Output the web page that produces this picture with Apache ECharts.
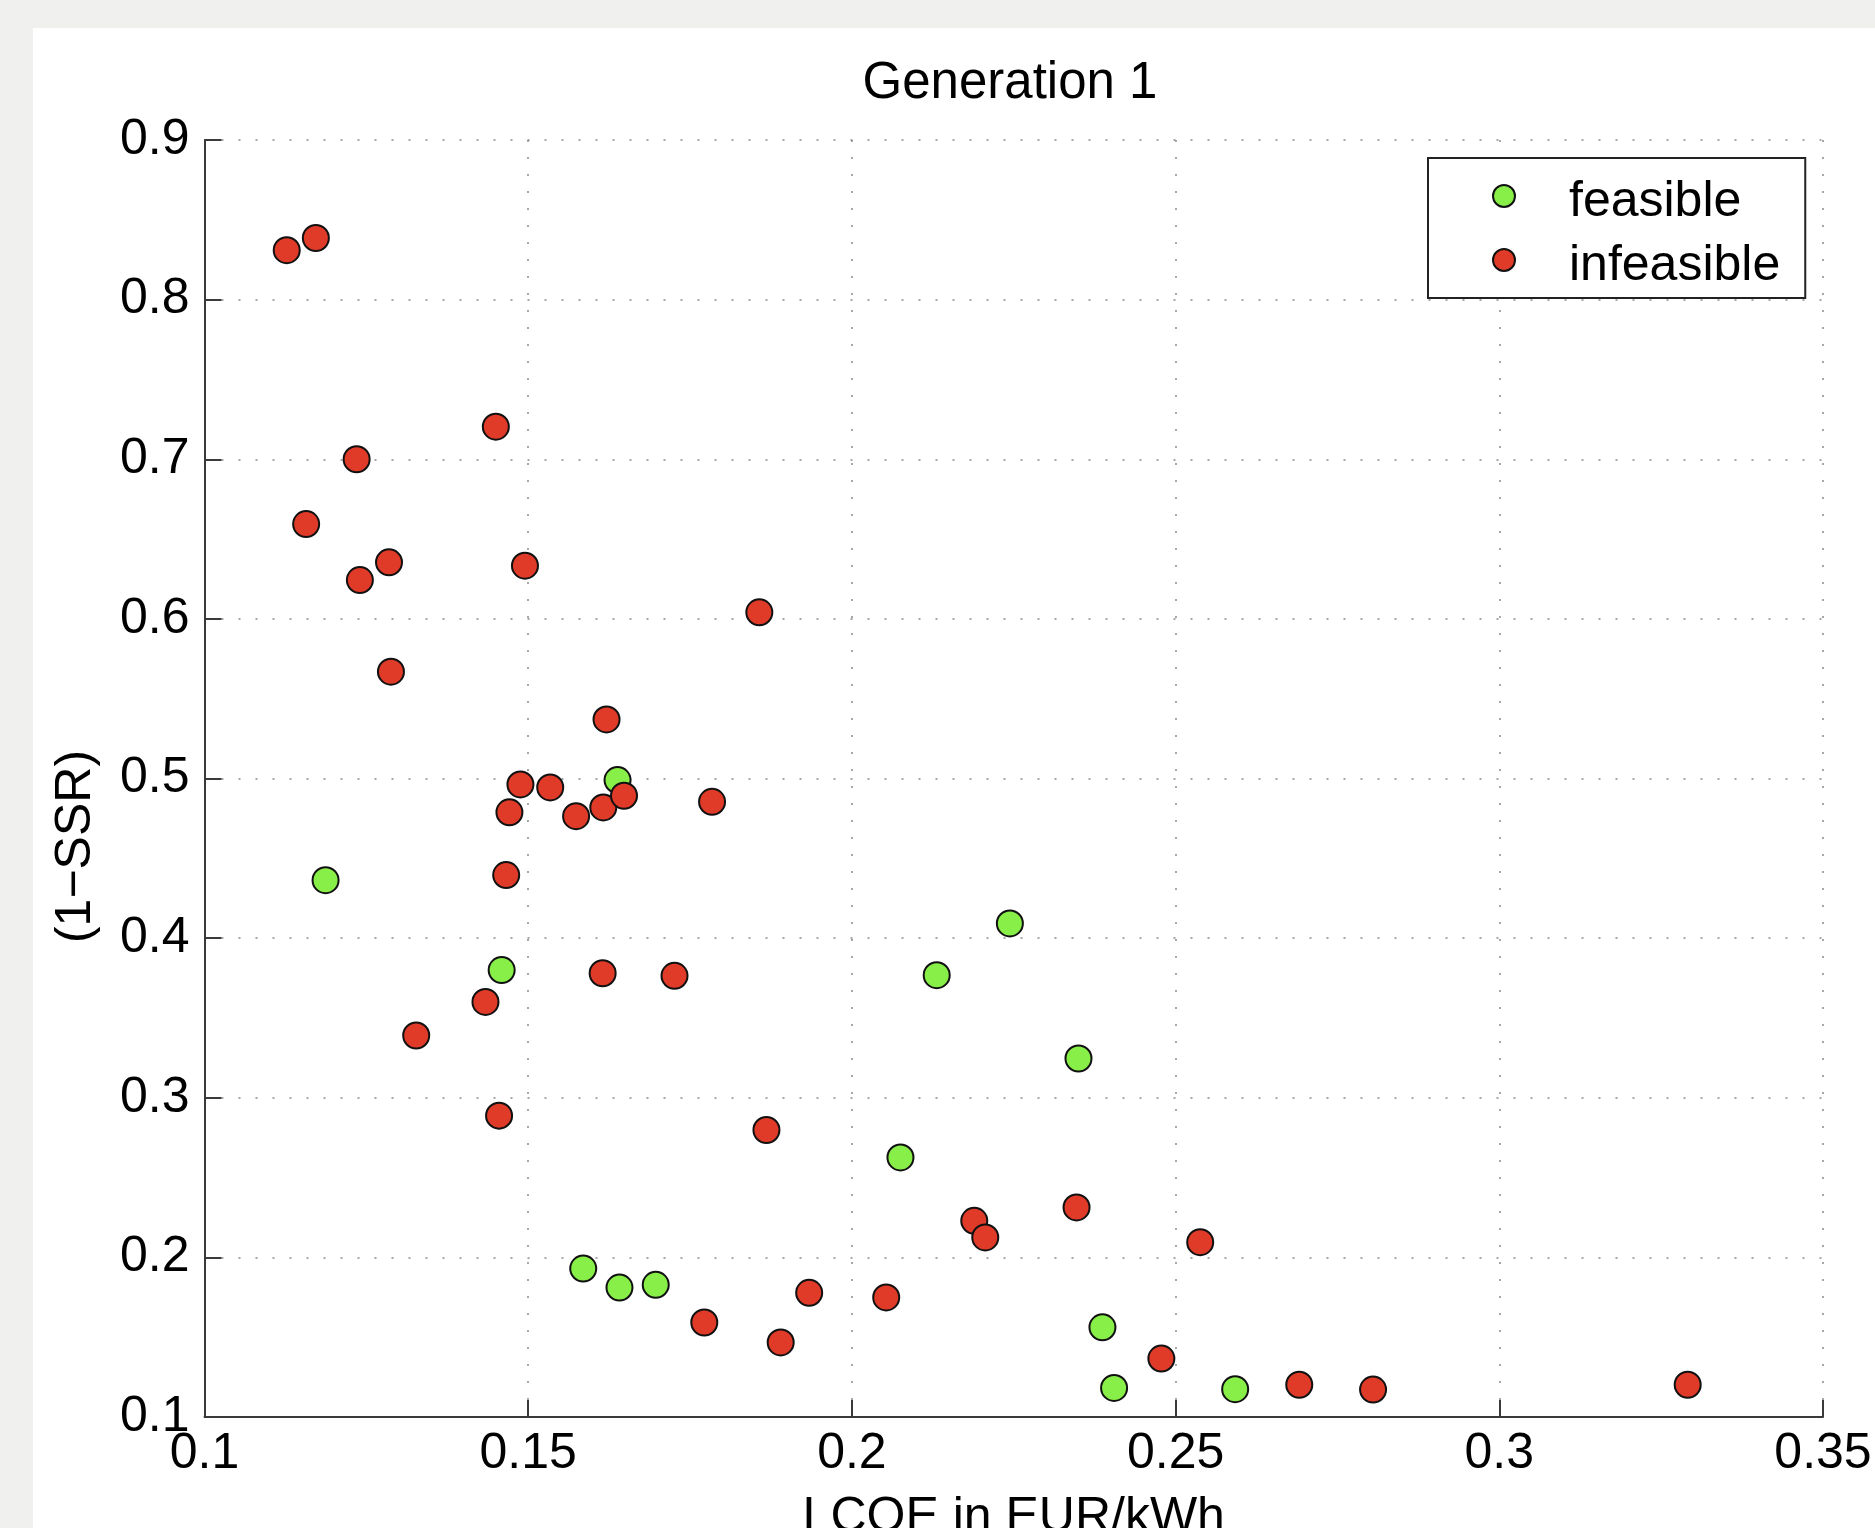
<!DOCTYPE html>
<html style="height: 100%">
<head>
  <meta charset="utf-8">
  <script src="https://cdn.jsdelivr.net/npm/echarts@6/dist/echarts.min.js"></script>
</head>
<body style="height: 100%; margin: 0; background: #f0f0ee">
  <div id="container" style="position: absolute; left: 33px; top: 28px; width: 1842px; height: 1500px; background: #fff"></div>
  <script type="text/javascript">
    // feasible points (green)
    var feasibleLcoe = [0.1187, 0.1459, 0.1638, 0.2244, 0.2131, 0.2350, 0.2075, 0.1585, 0.1641, 0.1697, 0.2387, 0.2405, 0.2592];
    var feasibleSsr  = [0.4363, 0.3800, 0.4990, 0.4092, 0.3768, 0.3246, 0.2626, 0.1930, 0.1811, 0.1828, 0.1562, 0.1182, 0.1174];

    // infeasible points (red)
    var infeasibleLcoe = [0.1127, 0.1172, 0.1450, 0.1235, 0.1157, 0.1240, 0.1285, 0.1495, 0.1857, 0.1288,
                          0.1621, 0.1488, 0.1534, 0.1471, 0.1574, 0.1616, 0.1648, 0.1784, 0.1466, 0.1615,
                          0.1726, 0.1434, 0.1327, 0.1455, 0.1868, 0.2189, 0.2206, 0.2347, 0.2538, 0.1772,
                          0.1890, 0.1934, 0.2053, 0.2478, 0.2691, 0.2805, 0.3291];
    var infeasibleSsr  = [0.8310, 0.8386, 0.7204, 0.7000, 0.6594, 0.6243, 0.6354, 0.6333, 0.6041, 0.5669,
                          0.5370, 0.4963, 0.4944, 0.4788, 0.4764, 0.4819, 0.4892, 0.4854, 0.4395, 0.3780,
                          0.3764, 0.3600, 0.3390, 0.2888, 0.2798, 0.2229, 0.2125, 0.2313, 0.2095, 0.1592,
                          0.1467, 0.1778, 0.1749, 0.1366, 0.1202, 0.1172, 0.1202];

    var seriesNames = ['feasible', 'infeasible'];

    function pairs(xs, ys) {
      return xs.map(function (x, i) { return [x, ys[i]]; });
    }

    var font = "'Liberation Sans', Arial, Helvetica, sans-serif";
    var dotted = { color: '#8a8a8a', width: 1.5, type: [2, 15] };

    var dom = document.getElementById('container');
    var myChart = echarts.init(dom);

    var option = {
      animation: false,
      textStyle: { fontFamily: font, color: '#000' },
      title: {
        text: 'Generation 1',
        left: 977,
        top: 30,
        padding: 0,
        textAlign: 'center',
        textStyle: { fontSize: 51, fontWeight: 'normal', color: '#000', fontFamily: font }
      },
      legend: {
        data: seriesNames,
        orient: 'vertical',
        left: 1395,
        top: 130,
        padding: [7, 25, 7, 64],
        itemWidth: 22,
        itemHeight: 22,
        itemGap: 2,
        icon: 'circle',
        borderColor: '#222',
        borderWidth: 2,
        backgroundColor: '#fff',
        formatter: '{t|{name}}',
        textStyle: {
          fontSize: 50, color: '#000', fontFamily: font,
          rich: { t: { fontSize: 50, lineHeight: 50, color: '#000', fontFamily: font, padding: [12, 0, 0, 49] } }
        }
      },
      grid: { left: 171.5, right: 52, top: 112, bottom: 111, outerBoundsMode: 'none' },
      xAxis: {
        type: 'value',
        min: 0.1,
        max: 0.35,
        interval: 0.05,
        name: 'LCOE in EUR/kWh',
        nameLocation: 'middle',
        nameGap: 76,
        nameTextStyle: { fontSize: 50, color: '#000', fontFamily: font },
        axisLine: { show: true, onZero: false, lineStyle: { color: '#3a3a3a', width: 2 } },
        axisTick: { show: true, inside: true, length: 17, lineStyle: { color: '#3a3a3a', width: 2 } },
        axisLabel: { fontSize: 50, color: '#000', margin: 12, fontFamily: font },
        splitLine: { show: true, lineStyle: dotted }
      },
      yAxis: {
        type: 'value',
        min: 0.1,
        max: 0.9,
        interval: 0.1,
        name: '(1\u2212SSR)',
        nameLocation: 'middle',
        nameGap: 103,
        nameTextStyle: { fontSize: 50, color: '#000', fontFamily: font, padding: [0, 136, 0, 0] },
        axisLine: { show: true, onZero: false, lineStyle: { color: '#3a3a3a', width: 2 } },
        axisTick: { show: true, inside: true, length: 17, lineStyle: { color: '#3a3a3a', width: 2 } },
        axisLabel: { fontSize: 50, color: '#000', margin: 15, fontFamily: font },
        splitLine: { show: true, lineStyle: dotted }
      },
      series: [
        {
          name: seriesNames[0],
          type: 'scatter',
          symbol: 'circle',
          symbolSize: 26,
          itemStyle: { color: '#88ee48', borderColor: '#111', borderWidth: 2, opacity: 1 },
          data: pairs(feasibleLcoe, feasibleSsr)
        },
        {
          name: seriesNames[1],
          type: 'scatter',
          symbol: 'circle',
          symbolSize: 26,
          itemStyle: { color: '#e03b28', borderColor: '#111', borderWidth: 2, opacity: 1 },
          data: pairs(infeasibleLcoe, infeasibleSsr)
        }
      ]
    };

    myChart.setOption(option);
  </script>
</body>
</html>
